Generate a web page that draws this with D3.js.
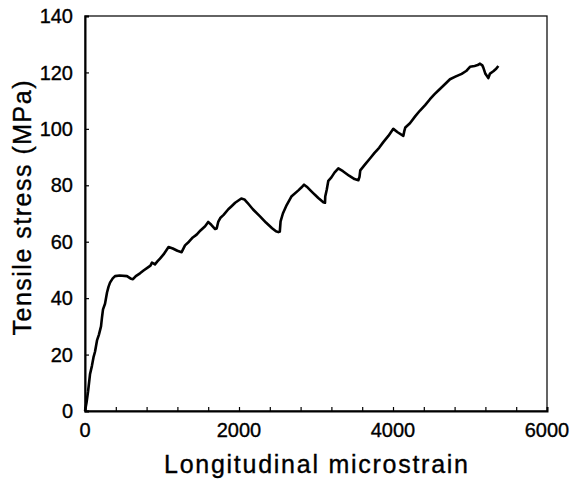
<!DOCTYPE html>
<html>
<head>
<meta charset="utf-8">
<script src="https://cdn.jsdelivr.net/npm/d3@7"></script>
<style>
  body { margin: 0; background: #fff; }
  svg text { font-family: "Liberation Sans", Arial, sans-serif; fill: #000; stroke: #000; stroke-width: 0.35px; }
</style>
</head>
<body>
<div id="chart"></div>
<script>
// strain (microstrain) vs tensile stress (MPa)
const strain = [0, 20, 40, 65, 90, 110, 130, 156, 180, 208, 220, 234, 260, 286, 305, 325, 360, 390, 450, 545,
  590, 623, 660, 714, 760, 818, 850, 870, 909, 940, 974, 1020, 1085, 1140, 1200, 1255, 1299, 1350, 1400, 1450,
  1500, 1560, 1600, 1640, 1690, 1710, 1730, 1760, 1800, 1861, 1900, 1950, 2030, 2070, 2110, 2180, 2273, 2350,
  2430, 2480, 2511, 2530, 2540, 2570, 2619, 2680, 2771, 2810, 2845, 2880, 2950, 3030, 3095, 3117, 3120, 3140,
  3160, 3200, 3240, 3290, 3350, 3430, 3500, 3550, 3565, 3575, 3640, 3701, 3760, 3820, 3874, 3940, 4004, 4060,
  4134, 4145, 4160, 4220, 4290, 4351, 4420, 4480, 4540, 4589, 4650, 4740, 4810, 4892, 4950, 5000, 5060, 5100,
  5130, 5160, 5173, 5200, 5238, 5260, 5303, 5340, 5368];
const stress = [0, 3, 7, 13, 16, 19, 21, 25, 27, 30, 33, 36, 38, 42, 44, 45.5, 47, 47.8, 48, 47.8,
  47, 46.7, 47.8, 48.8, 49.8, 50.9, 51.5, 52.6, 52, 53, 54, 55.5, 58.1, 57.6, 56.8, 56.3, 58.7, 60, 61.5, 62.5,
  64, 65.5, 67, 66, 64.5, 64.7, 67, 68.5, 69.5, 71.5, 72.5, 73.8, 75.3, 75, 73.8, 71.5, 69, 66.8,
  64.8, 63.7, 63.4, 63.6, 67.2, 70, 73, 76, 78.2, 79.2, 80.2, 79.5, 77.6, 75.5, 74, 73.8, 76, 78.5,
  81.6, 82.8, 84.5, 86, 85, 83.4, 82.2, 81.8, 83, 85.3, 87.5, 89.5, 91.5, 93.3, 95.3, 97.5, 100, 98.8,
  97.5, 99, 100.5, 102, 104.5, 106.5, 108.5, 110.5, 112.3, 113.6, 115.2, 117.6, 118.5, 119.5, 120.5, 122, 122.3, 122.6,
  123.1, 122.5, 121.7, 119.5, 118, 119.6, 120.4, 121.3, 122.3];

const xTickLabels = [0, 2000, 4000, 6000];
const yTickLabels = [0, 20, 40, 60, 80, 100, 120, 140];

const W = 572, H = 481;
const margin = { top: 16, right: 25, bottom: 70, left: 85 };
const width = W - margin.left - margin.right;
const height = H - margin.top - margin.bottom;

const svg = d3.select("#chart").append("svg")
  .attr("width", W)
  .attr("height", H);

const g = svg.append("g").attr("transform", `translate(${margin.left},${margin.top})`);

const x = d3.scaleLinear().domain([0, 6000]).range([0, width]);
const y = d3.scaleLinear().domain([0, 140]).range([height, 0]);

// frame (top and right)
g.append("rect")
  .attr("x", 0).attr("y", 0)
  .attr("width", width).attr("height", height)
  .attr("fill", "none")
  .attr("stroke", "#111")
  .attr("stroke-width", 1.3);

// x ticks every 400, inward
const xAxis = g.append("g")
  .attr("transform", `translate(0,${height})`)
  .call(d3.axisBottom(x).tickValues(d3.range(0, 6001, 400)).tickSize(-4).tickFormat(""));
xAxis.select(".domain").attr("stroke-width", 2).attr("stroke", "#000");
xAxis.selectAll(".tick line").attr("stroke-width", 1.2);

xAxis.selectAll(".lbl")
  .data(xTickLabels)
  .enter().append("text")
  .attr("class", "lbl")
  .attr("x", d => x(d))
  .attr("y", 26)
  .attr("text-anchor", "middle")
  .attr("font-size", 20)
  .text(d => d);

const yAxis = g.append("g")
  .call(d3.axisLeft(y).tickValues(yTickLabels).tickSize(-4).tickFormat(""));
yAxis.select(".domain").attr("stroke-width", 2).attr("stroke", "#000");
yAxis.selectAll(".tick line").attr("stroke-width", 1.2);

yAxis.selectAll(".lbl")
  .data(yTickLabels)
  .enter().append("text")
  .attr("class", "lbl")
  .attr("x", -12)
  .attr("y", d => y(d))
  .attr("dy", "0.36em")
  .attr("text-anchor", "end")
  .attr("font-size", 20)
  .text(d => d);

// curve
const pts = strain.map((s, i) => [s, stress[i]]);
g.append("path")
  .datum(pts)
  .attr("fill", "none")
  .attr("stroke", "#000")
  .attr("stroke-width", 2.6)
  .attr("stroke-linejoin", "round")
  .attr("d", d3.line().x(d => x(d[0])).y(d => y(d[1])));

// axis titles
svg.append("text")
  .attr("x", margin.left + width / 2)
  .attr("y", 473)
  .attr("text-anchor", "middle")
  .attr("font-size", 25)
  .attr("textLength", 304)
  .attr("lengthAdjust", "spacing")
  .text("Longitudinal microstrain");

svg.append("text")
  .attr("transform", "translate(31,208) rotate(-90)")
  .attr("text-anchor", "middle")
  .attr("font-size", 25)
  .attr("textLength", 255)
  .attr("lengthAdjust", "spacing")
  .text("Tensile stress (MPa)");
</script>
</body>
</html>
